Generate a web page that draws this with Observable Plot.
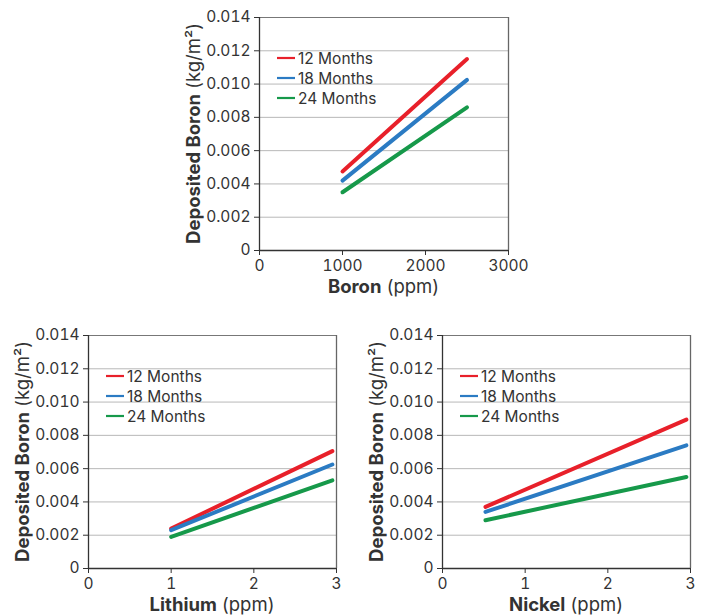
<!DOCTYPE html>
<html><head><meta charset="utf-8">
<script src="https://cdn.jsdelivr.net/npm/d3@7"></script>
<script src="https://cdn.jsdelivr.net/npm/@observablehq/plot@0.6"></script>
<style>
body{margin:0;background:#fff;}
#wrap{position:relative;width:701px;height:615px;overflow:hidden;background:#fff;}
.panel{position:absolute;}
.panel svg{overflow:visible;}
</style></head><body><div id="wrap"></div>
<script>
const seriesNames = ["12 Months", "18 Months", "24 Months"];
const seriesColors = ["#e8202a", "#2b7bc3", "#16994a"];
const yTicks = [0, 0.002, 0.004, 0.006, 0.008, 0.010, 0.012, 0.014];

const boronTicks = [0, 1000, 2000, 3000];
const boronX = [1000, 2500];
const boron12 = [0.00475, 0.0115];
const boron18 = [0.0042, 0.01025];
const boron24 = [0.0035, 0.0086];

const lithiumTicks = [0, 1, 2, 3];
const lithiumX = [1, 2.95];
const lithium12 = [0.0024, 0.00705];
const lithium18 = [0.0023, 0.00625];
const lithium24 = [0.0019, 0.0053];

const nickelTicks = [0, 1, 2, 3];
const nickelX = [0.52, 2.95];
const nickel12 = [0.0037, 0.00895];
const nickel18 = [0.0034, 0.0074];
const nickel24 = [0.0029, 0.0055];

const yTitleBold = "Deposited Boron";
const yTitleRest = " (kg/m²)";
const FONT = "Inter, 'Liberation Sans', sans-serif";

function panel(opts) {
  const {left, top, width, height, mL, mR, mT, mB, xDomain, xTicks, xs, ys, xName} = opts;
  const data = seriesNames.flatMap((s, i) => xs.map((x, j) => ({series: s, x, y: ys[i][j]})));
  const chart = Plot.plot({
    width, height, marginLeft: mL, marginRight: mR, marginTop: mT, marginBottom: mB,
    style: {fontFamily: FONT, fontSize: "15px", color: "#333", background: "transparent"},
    x: {domain: xDomain},
    y: {domain: [0, 0.014]},
    color: {domain: seriesNames, range: seriesColors},
    marks: [
      Plot.ruleY(yTicks.filter(d => d > 0 && d < 0.014), {stroke: "#b8b8b8", strokeWidth: 1}),
      Plot.ruleY([0.014], {stroke: "#777", strokeWidth: 1}),
      Plot.ruleX([xDomain[1]], {stroke: "#666", strokeWidth: 1.3}),
      Plot.axisX({ticks: xTicks, tickSize: 5, tickPadding: 4, label: null, tickFormat: d => String(d), fontSize: 15.5}),
      Plot.axisY({ticks: yTicks, tickSize: 5, tickPadding: 4, label: null, tickFormat: d => d === 0 ? "0" : d.toFixed(3), fontSize: 15.5}),
      Plot.ruleX([xDomain[0]], {stroke: "#333", strokeWidth: 1.3}),
      Plot.ruleY([0], {stroke: "#333", strokeWidth: 1.3}),
      Plot.line(data, {x: "x", y: "y", z: "series", stroke: "series", strokeWidth: 4})
    ]
  });
  const svg = d3.select(chart);
  const pw = width - mL - mR, ph = height - mT - mB;
  // legend
  const lg = svg.append("g").attr("transform", `translate(${mL},${mT})`).attr("text-anchor", "start");
  seriesNames.forEach((s, i) => {
    const yy = 41 + i * 20;
    lg.append("line").attr("x1", 18).attr("x2", 36).attr("y1", yy).attr("y2", yy)
      .attr("stroke", seriesColors[i]).attr("stroke-width", 2.2);
    lg.append("text").attr("x", 39).attr("y", yy).attr("dy", "0.36em").attr("text-anchor", "start")
      .attr("font-family", FONT).attr("font-size", 15.5).attr("fill", "#333").text(s);
  });
  // y title
  const yt = svg.append("text")
    .attr("transform", `translate(${mL - 66},${mT + ph / 2}) rotate(-90)`)
    .attr("dy", "0.36em").attr("text-anchor", "middle")
    .attr("font-family", FONT).attr("font-size", 18.5).attr("fill", "#333")
    .style("white-space", "pre");
  yt.append("tspan").attr("font-weight", "bold").text(yTitleBold);
  yt.append("tspan").text(yTitleRest);
  // x title
  const xt = svg.append("text")
    .attr("x", mL + pw / 2).attr("y", mT + ph + 43).attr("text-anchor", "middle")
    .attr("font-family", FONT).attr("font-size", 18.5).attr("fill", "#333")
    .style("white-space", "pre");
  xt.append("tspan").attr("font-weight", "bold").text(xName);
  xt.append("tspan").text(" (ppm)");

  const div = document.createElement("div");
  div.className = "panel";
  div.style.left = left + "px";
  div.style.top = top + "px";
  div.appendChild(chart);
  document.getElementById("wrap").appendChild(div);
}

panel({left: 180, top: 0, width: 340, height: 300, mL: 79, mR: 12, mT: 17, mB: 50,
  xDomain: [0, 3000], xTicks: boronTicks, xs: boronX, ys: [boron12, boron18, boron24], xName: "Boron"});
panel({left: 0, top: 320, width: 350, height: 295, mL: 88, mR: 14, mT: 15, mB: 47,
  xDomain: [0, 3], xTicks: lithiumTicks, xs: lithiumX, ys: [lithium12, lithium18, lithium24], xName: "Lithium"});
panel({left: 355, top: 320, width: 346, height: 295, mL: 87, mR: 11, mT: 15, mB: 47,
  xDomain: [0, 3], xTicks: nickelTicks, xs: nickelX, ys: [nickel12, nickel18, nickel24], xName: "Nickel"});
</script>
</body></html>
